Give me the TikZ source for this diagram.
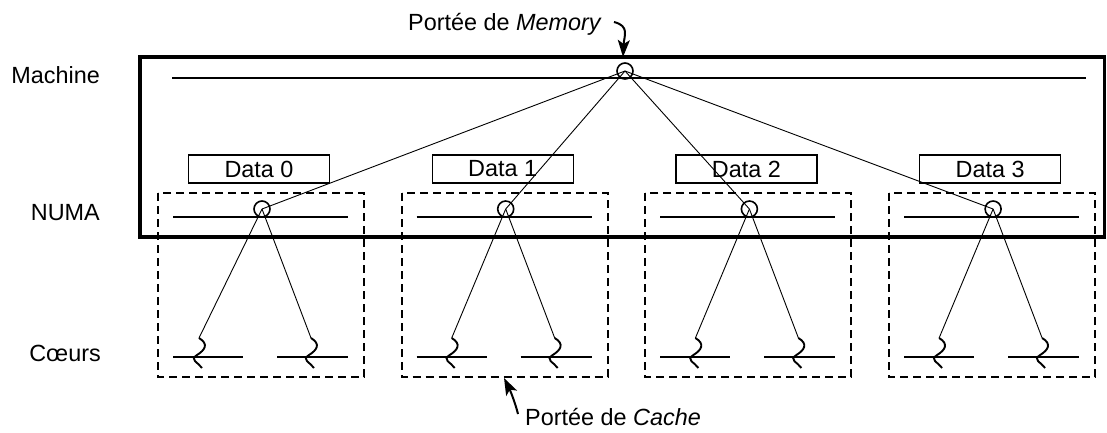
\documentclass[tikz,border=0pt]{standalone}
\usepackage{fontspec}
\setmainfont{Liberation Sans}
\usetikzlibrary{arrows.meta}
\begin{document}
\begin{tikzpicture}[x=1pt,y=-1pt,
  font=\fontsize{23.4}{27}\selectfont,
  level/.style={line width=1.8pt},
  link/.style={line width=0.9pt},
  squig/.style={line width=1.9pt},
  scopebox/.style={dash pattern=on 8pt off 5pt, line width=2pt},
  machinebox/.style={line width=3.8pt},
  databox/.style={draw, line width=1.3pt, minimum width=141pt, minimum height=28pt, inner sep=0pt},
  hub/.style={circle, draw, line width=1.6pt, minimum size=16pt, inner sep=0pt},
  lbl/.style={anchor=east, inner sep=0pt},
  callout/.style={-{Stealth[length=17pt,width=12pt,inset=4pt]}, line width=2pt}]
\useasboundingbox (0,0) rectangle (1107,432);
% level labels
\node[lbl] (lmachine) at (100,75) {Machine};
\node[lbl] (lnuma) at (100,213) {NUMA};
\node[lbl] (lcores) at (101,353) {C\oe urs};
% machine box
\draw[machinebox] (140,57) rectangle (1104.5,237);
\draw[level] (172,78) -- (1086,78);
\node[hub] (mem) at (625,71) {};
% groups
\foreach \i/\sl in {0/41,1/50,2/50,3/50} {
  \pgfmathsetmacro\L{158+243.7*\i}
  \draw[scopebox] (\L,193) rectangle ++(206,184);
  \node[databox] (data\i) at (\L+101,169) {Data \i};
  \draw[level] (\L+15,217) -- (\L+190,217);
  \node[hub] (numa\i) at (\L+104,209) {};
  \draw[link] (mem.center) -- (numa\i.center);
  \draw[level] (\L+15,357) -- (\L+85,357);
  \draw[level] (\L+119,357) -- (\L+190,357);
  \coordinate (ca\i) at (\L+\sl,338);
  \coordinate (cb\i) at (\L+153,338);
  \draw[link] (numa\i.center) -- (ca\i);
  \draw[link] (numa\i.center) -- (cb\i);
  \draw[squig] (ca\i) .. controls +(10,6) and +(8,-5) .. ++(-2,17) .. controls +(-8,5) and +(-4,-6) .. ++(5,13);
  \draw[squig] (cb\i) .. controls +(10,6) and +(8,-5) .. ++(-2,17) .. controls +(-8,5) and +(-4,-6) .. ++(5,13);
}
% callouts
\node[anchor=base east, inner sep=0pt] (tmem) at (602,30) {Portée de \textit{Memory}};
\coordinate (memtail) at (614,22);
\coordinate (memtip) at (623,57);
\draw[callout] (memtail) .. controls (630,26) and (624,36) .. (memtip);
\node[anchor=base west, inner sep=0pt] (tcache) at (525,425) {Portée de \textit{Cache}};
\coordinate (cachetail) at (518,414);
\coordinate (cachetip) at (504,378);
\draw[callout] (cachetail) .. controls (515,402) and (510,390) .. (cachetip);
\end{tikzpicture}
\end{document}
